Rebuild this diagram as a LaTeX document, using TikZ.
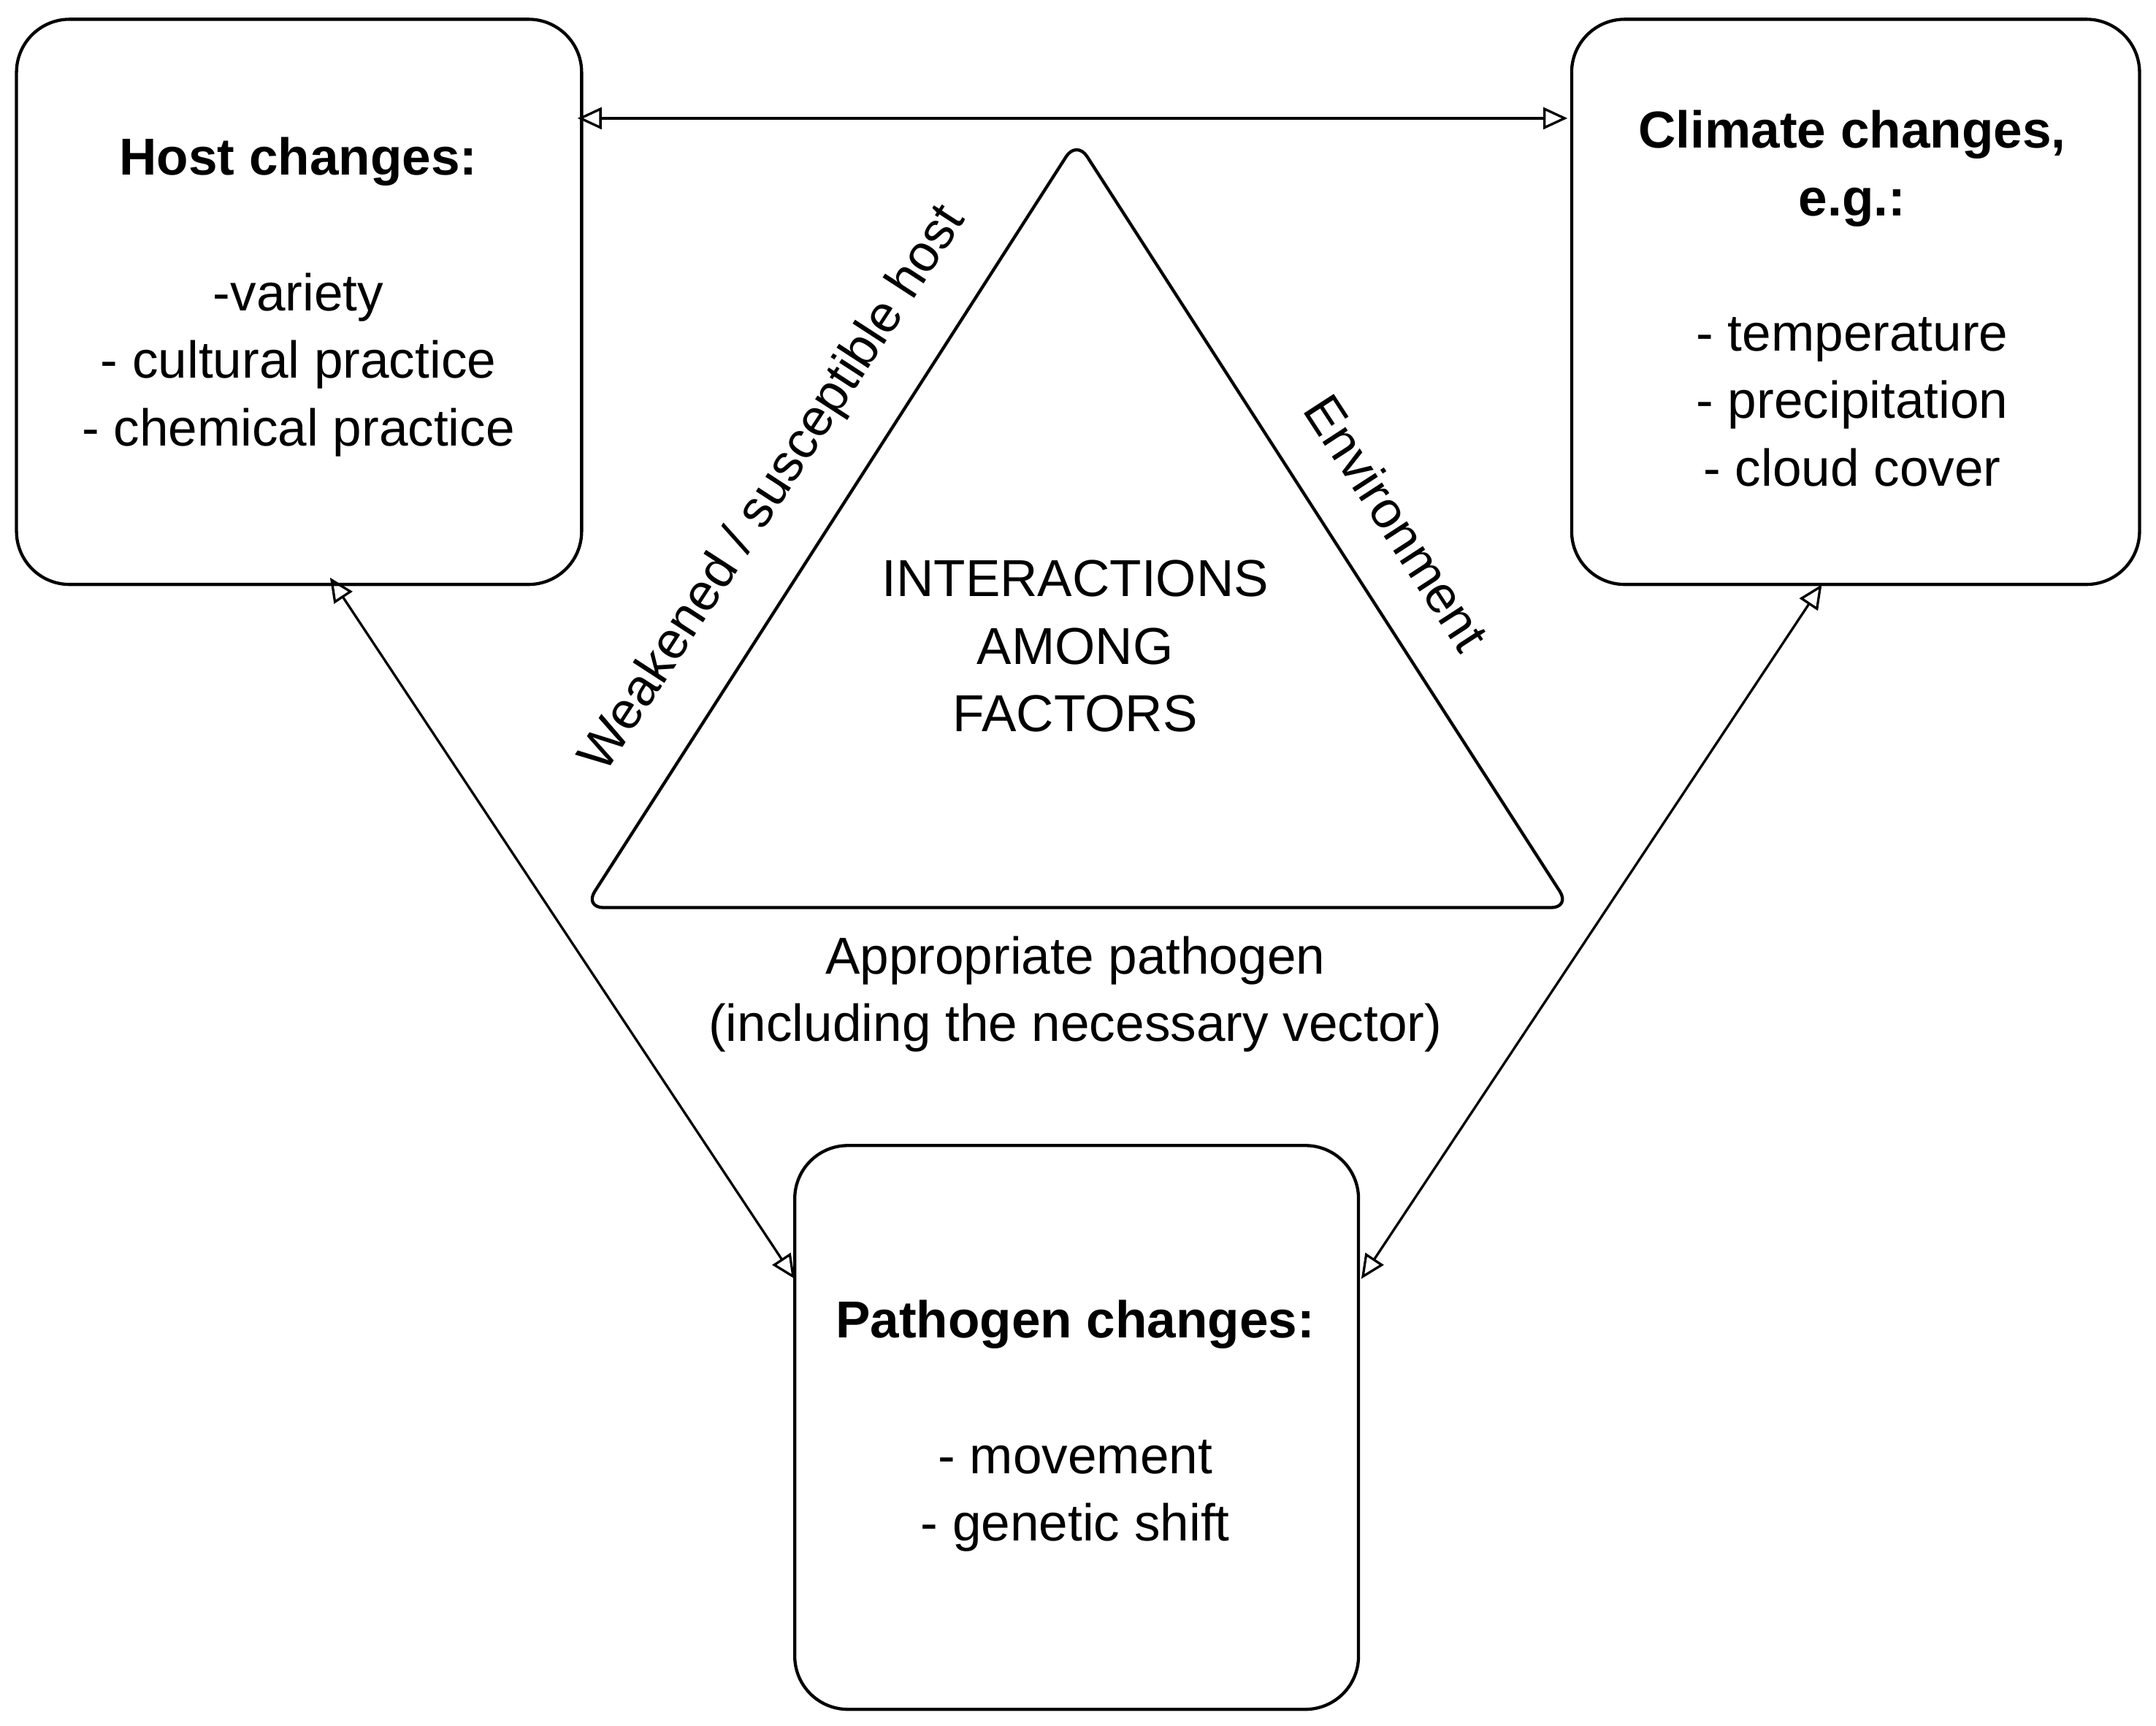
\documentclass[tikz,border=0pt]{standalone}
\usepackage{fontspec}
\setmainfont{Liberation Sans}
\usetikzlibrary{arrows.meta}
\begin{document}
\begin{tikzpicture}[x=0.02cm,y=-0.02cm,
  box/.style={draw,line width=1.3pt,rounded corners=22pt},
  txt/.style={font=\fontsize{21.5}{28}\selectfont,align=center,inner sep=0},
  arr/.style={line width=1pt,{Triangle[open,length=10pt,width=9pt]}-{Triangle[open,length=10pt,width=9pt]}}]
\useasboundingbox (0,0) rectangle (1568,1255);
\draw[box] (12,14) rectangle (423,425);
\draw[box] (1143,14) rectangle (1556,425);
\draw[box] (578,833) rectangle (988,1243);
\draw[line width=1.3pt,rounded corners=8pt] (783,102) -- (1142,660) -- (425,660) -- cycle;
\coordinate (t1) at (420,86); \coordinate (t2) at (1140,86);
\coordinate (l1) at (240,420); \coordinate (l2) at (578,930);
\coordinate (r1) at (1325,425); \coordinate (r2) at (990,930);
\draw[arr] (t1) -- (t2);
\draw[arr] (l1) -- (l2);
\draw[arr] (r1) -- (r2);
\node[txt] (h) at (217,216) {\textbf{Host changes:}\\[28pt]-variety\\- cultural practice\\- chemical practice};
\node[txt] (c) at (1347,217) {\textbf{Climate changes,}\\\textbf{e.g.:}\\[28pt]- temperature\\- precipitation\\- cloud cover};
\node[txt] (p) at (782,1037) {\textbf{Pathogen changes:}\\[28pt]- movement\\- genetic shift};
\node[txt] (i) at (782,470) {INTERACTIONS\\AMONG\\FACTORS};
\node[txt] (a) at (782,723) {Appropriate pathogen\\(including the necessary vector)};
\node[txt,rotate=57] (w) at (563,356) {Weakened / susceptible host};
\node[txt,rotate=-57] (e) at (1016,380) {Environment};
\end{tikzpicture}
\end{document}
